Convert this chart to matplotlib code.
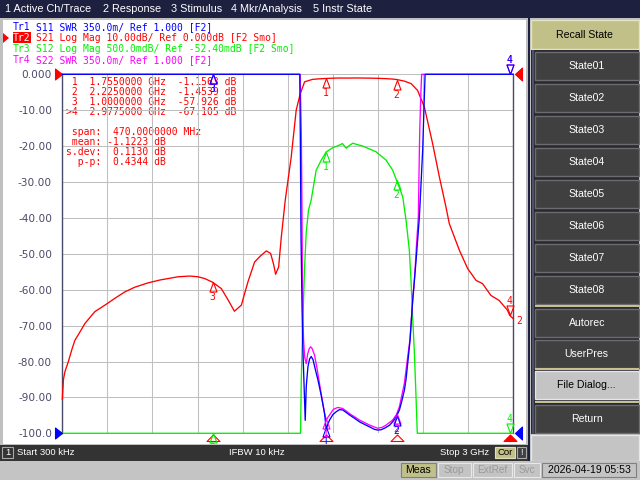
import numpy as np
import matplotlib
matplotlib.use("Agg")
import matplotlib.pyplot as plt
from matplotlib.patches import Rectangle, Polygon
from matplotlib.path import Path
from matplotlib.transforms import Bbox, TransformedBbox

# ------------------------------------------------------------------ data
start_ghz = 0.0003
stop_ghz = 3.0
n_div = 10

menu_labels = ["1 Active Ch/Trace", "2 Response", "3 Stimulus", "4 Mkr/Analysis", "5 Instr State"]

trace_names = ["Tr1", "Tr2", "Tr3", "Tr4"]
trace_params = ["S11", "S21", "S12", "S22"]
trace_formats = ["SWR", "Log Mag", "Log Mag", "SWR"]
trace_scales = ["350.0m/", "10.00dB/", "500.0mdB/", "350.0m/"]
trace_refs = ["Ref 1.000", "Ref 0.000dB", "Ref -52.40mdB", "Ref 1.000"]
trace_tags = ["[F2]", "[F2 Smo]", "[F2 Smo]", "[F2]"]

# per-division scale and reference value (reference position: top for dB, bottom for SWR)
s21_div, s21_ref = 10.0, 0.0
s12_div, s12_ref = 0.5, -0.0524
swr_div, swr_ref = 0.35, 1.0

# Tr2  S21 log magnitude (dB)
s21_freq = [0.0003, 0.008, 0.018, 0.040, 0.063, 0.084, 0.106, 0.151, 0.217, 0.284,
            0.350, 0.417, 0.483, 0.571, 0.650, 0.771, 0.849, 0.904, 0.948, 1.000,
            1.059, 1.103, 1.146, 1.192, 1.236, 1.280, 1.314, 1.358, 1.387, 1.407,
            1.420, 1.440, 1.458, 1.484, 1.524, 1.557, 1.584, 1.613, 1.635, 1.668,
            1.700, 1.755, 1.800, 1.850, 1.900, 1.950, 2.000, 2.050, 2.100, 2.150,
            2.200, 2.225, 2.277, 2.322, 2.365, 2.410, 2.465, 2.510, 2.554, 2.576,
            2.643, 2.698, 2.754, 2.797, 2.853, 2.908, 2.963, 2.9775, 3.000]
s21_db = [-90.5, -85.0, -82.8, -80.1, -76.8, -74.1, -72.6, -69.4, -66.1, -64.3,
          -62.4, -60.6, -59.3, -58.1, -57.3, -56.4, -56.2, -56.4, -56.9, -57.9,
          -59.7, -62.8, -66.0, -64.3, -57.8, -52.3, -50.8, -49.2, -49.9, -53.0,
          -55.7, -53.7, -45.3, -35.1, -23.0, -10.0, -5.4, -2.1, -1.8, -1.4,
          -1.3, -1.156, -1.08, -1.03, -1.05, -1.02, -1.04, -1.07, -1.12, -1.20,
          -1.33, -1.454, -1.9, -2.6, -4.5, -9.1, -19.3, -28.6, -37.0, -41.6,
          -49.0, -54.1, -57.4, -58.3, -61.6, -63.0, -65.7, -67.105, -68.0]

# Tr3  S12 log magnitude (dB), 0.5 dB/div
s12_freq = [0.0003, 1.586, 1.591, 1.601, 1.613, 1.624, 1.639, 1.657, 1.690, 1.724,
            1.757, 1.799, 1.845, 1.865, 1.890, 1.912, 1.934, 1.965, 2.000, 2.045,
            2.089, 2.155, 2.199, 2.233, 2.266, 2.288, 2.310, 2.322, 2.332, 2.343,
            2.353, 2.363, 3.000]
s12_db = [-5.0524, -5.0524, -4.3024, -3.5024, -2.7324, -2.2524, -1.9424, -1.8024, -1.3874, -1.2474,
          -1.1324, -1.0774, -1.0374, -1.0174, -1.0824, -1.0424, -1.0124, -1.0324, -1.0524, -1.0924,
          -1.1324, -1.2474, -1.3874, -1.5724, -1.7574, -2.0824, -2.5024, -2.9524, -3.4274, -3.9024,
          -4.4524, -5.0524, -5.0524]

# Tr1  S11 SWR
s11_freq = [0.0003, 1.581, 1.585, 1.589, 1.596, 1.601, 1.609, 1.617, 1.624, 1.635,
            1.646, 1.657, 1.669, 1.686, 1.701, 1.724, 1.746, 1.757, 1.767, 1.779,
            1.801, 1.823, 1.845, 1.867, 1.890, 1.912, 1.945, 1.978, 2.011, 2.045,
            2.078, 2.100, 2.122, 2.144, 2.177, 2.199, 2.222, 2.244, 2.260, 2.277,
            2.288, 2.299, 2.315, 2.332, 2.355, 2.377, 2.388, 2.399, 2.407, 2.415, 3.000]
s11_swr = [4.5, 4.5, 3.8, 2.925, 2.225, 1.84, 1.49, 1.126, 1.455, 1.6475,
           1.7245, 1.749, 1.7175, 1.6125, 1.525, 1.3675, 1.1925, 1.035, 1.0875, 1.1295,
           1.182, 1.21, 1.231, 1.2275, 1.203, 1.1785, 1.147, 1.112, 1.0875, 1.063,
           1.0385, 1.0315, 1.035, 1.049, 1.077, 1.112, 1.1575, 1.2275, 1.315, 1.42,
           1.525, 1.679, 1.91, 2.295, 2.687, 3.1105, 3.436, 3.765, 4.15, 4.5, 4.5]

# Tr4  S22 SWR
s22_freq = [0.0003, 1.583, 1.587, 1.591, 1.595, 1.598, 1.601, 1.606, 1.613, 1.624,
            1.633, 1.643, 1.653, 1.662, 1.679, 1.696, 1.712, 1.729, 1.746, 1.757,
            1.769, 1.779, 1.805, 1.834, 1.867, 1.912, 1.945, 1.978, 2.045, 2.100,
            2.131, 2.156, 2.199, 2.224, 2.244, 2.277, 2.299, 2.314, 2.327, 2.343,
            2.357, 2.370, 2.377, 2.380, 2.387, 2.392, 3.000]
s22_swr = [4.5, 4.5, 4.22, 3.94, 3.275, 2.575, 2.19, 1.91, 1.7455, 1.679,
           1.77, 1.8225, 1.8435, 1.8295, 1.763, 1.63, 1.4865, 1.3325, 1.1925, 1.1295,
           1.1575, 1.1785, 1.2345, 1.252, 1.2415, 1.1925, 1.161, 1.1295, 1.0805, 1.049,
           1.0595, 1.0805, 1.1295, 1.182, 1.259, 1.4865, 1.7455, 1.91, 2.19, 2.47,
           2.82, 3.1105, 3.765, 3.989, 4.325, 4.5, 4.5]

marker_names = ["1", "2", "3", ">4"]
marker_freq = [1.755, 2.225, 1.0, 2.9775]
marker_s21 = [-1.1563, -1.4539, -57.926, -67.105]
stats_labels = ["span:", "mean:", "s.dev:", "p-p:"]
stats_values = [None, -1.1223, 0.1130, 0.4344]
stats_units = ["MHz", "dB", "dB", "dB"]

softkey_title = "Recall State"
softkey_labels = ["State01", "State02", "State03", "State04", "State05", "State06",
                  "State07", "State08", "Autorec", "UserPres", "File Dialog...", "Return"]
status_texts = ["Start 300 kHz", "IFBW 10 kHz", "Stop 3 GHz"]
bottom_items = ["Meas", "Stop", "ExtRef", "Svc", "2026-04-19 05:53"]

# ------------------------------------------------------------------ style
DPI = 100
RED, BLUE, GREEN, MAG = "#ff0000", "#0000ff", "#00f000", "#ff00ff"
AXC = "#4a4a6a"
UIF = "Liberation Sans"
MONO = "DejaVu Sans Mono"
CW = 0.602 * 7.0 * DPI / 72  # monospace advance in pixels
plt.rcParams["font.family"] = ["DejaVu Sans"]

fig = plt.figure(figsize=(6.4, 4.8), dpi=DPI)
fig.patch.set_facecolor("#c0c0c0")

ui = fig.add_axes([0, 0, 1, 1])
ui.set_xlim(0, 640)
ui.set_ylim(480, 0)
ui.axis("off")
ui.set_zorder(0)


def rect(x0, y0, x1, y1, fc, ec="none", lw=0.0, z=1):
    ui.add_patch(Rectangle((x0, y0), x1 - x0, y1 - y0, facecolor=fc,
                           edgecolor=ec, linewidth=lw, zorder=z))


def uitext(x, y, s, color, size, family=UIF, ha="left", z=3):
    ui.text(x, y, s, color=color, fontsize=size, family=family, ha=ha,
            va="center", zorder=z)


# menu bar
rect(0, 0, 640, 18, "#1e2040")
for x, lab in zip([5, 103, 171, 231, 313], menu_labels):
    uitext(x, 9.5, lab, "white", 7.8)

# chart panel
rect(3, 20, 525.5, 443.5, "white")
rect(528.3, 18, 530.3, 461, "#1e2040")
panel_clip = TransformedBbox(Bbox([[3, 20], [525.5, 443.5]]), ui.transData)

# trace headers
for i, (n, p, f, sc, rf, tg) in enumerate(zip(trace_names, trace_params, trace_formats,
                                              trace_scales, trace_refs, trace_tags)):
    col = [BLUE, RED, GREEN, MAG][i]
    y = 27 + 11 * i
    rest = f"{p} {f} {sc} {rf} {tg}"
    if i == 1:
        rect(12.6, y - 5.6, 31.0, y + 5.4, RED, z=2)
        ui.add_patch(Polygon([(3, y - 5), (9, y), (3, y + 5)], closed=True,
                             facecolor=RED, edgecolor="none", zorder=2))
        uitext(13, y, n, "white", 7.0, MONO)
    else:
        uitext(13, y, n, col, 7.0, MONO)
    uitext(13 + (len(n) + 1) * CW, y, rest, col, 7.0, MONO)

# marker readout
for i, (nm, mf, mv) in enumerate(zip(marker_names, marker_freq, marker_s21)):
    uitext(65.9, 81.7 + 10 * i, f"{nm:>2}  {mf:.7f} GHz  {mv:.5g} dB", RED, 7.0, MONO)
span_mhz = (marker_freq[1] - marker_freq[0]) * 1000
for i, (lab, val, unit) in enumerate(zip(stats_labels, stats_values, stats_units)):
    v = f"{span_mhz: .7f}" if val is None else f"{val: .4f}"
    uitext(65.9, 131.7 + 10 * i, f"{lab:>6} {v} {unit}", RED, 7.0, MONO)

# softkeys
rect(530.5, 20, 638.5, 48.5, "#c0c088", "#e4e4c4", 1.0)
uitext(584.5, 34.5, softkey_title, "black", 7.6, ha="center")
rect(530.5, 50, 638.5, 434, "#2a2a36")
rect(531.5, 50, 533.5, 434, "#50506a")
key_tops = [52 + 32 * i for i in range(8)] + [309, 340, 371, 405]
for top, lab in zip(key_tops, softkey_labels):
    light = lab.startswith("File")
    fc = "#c4c4c4" if light else "#404040"
    rect(535, top, 638.5, top + 27.5, fc, "#6c6c6c" if not light else "#e6e6e6", 1.0)
    uitext(586.7, top + 14, lab, "black" if light else "white", 7.6, ha="center")
for yy in [305.5, 368.5, 402]:
    rect(535, yy - 1, 638.5, yy + 1, "#c8c090", z=2)
rect(530.5, 435, 638.5, 460.5, "#c4c4c4", "#e6e6e6", 1.0)

# status bar
rect(0, 445, 528.3, 460.5, "#333333")
rect(2, 447, 13.3, 458.3, "#333333", "#a8a8a8", 0.8)
uitext(7.6, 452.7, "1", "white", 6.8, ha="center")
for x, s in zip([17, 229, 440.5], status_texts):
    uitext(x, 452.7, s, "white", 6.8)
rect(495, 447, 515, 458.3, "#c0c088", "#e0e0c0", 0.8)
uitext(505, 452.7, "Cor", "black", 6.8, ha="center")
rect(517, 447, 525.5, 458.3, "#404040", "#a8a8a8", 0.8)
uitext(521.2, 452.7, "!", "white", 6.8, ha="center")

# bottom bar
rect(0, 461, 640, 480, "#c4c4c4")
boxes = [(401, 436), (437.5, 470.5), (472.5, 512), (514, 540), (542, 636)]
for (x0, x1), s in zip(boxes, bottom_items):
    if s == "Meas":
        rect(x0, 462.5, x1, 477, "#c0c088", "#808080", 0.8)
        col = "black"
    elif s.startswith("20"):
        rect(x0, 462.5, x1, 477, "#c4c4c4", "#808080", 0.8)
        col = "black"
    else:
        rect(x0, 462.5, x1, 477, "#c4c4c4", "#e8e8e8", 0.8)
        col = "#9a9a9a"
    uitext((x0 + x1) / 2, 470, s, col, 7.6 if col == "black" else 7.2, ha="center")

# ------------------------------------------------------------------ graticule
L, R, T, B = 62.3, 513.0, 74.3, 433.3
ax = fig.add_axes([L / 640, 1 - B / 480, (R - L) / 640, (B - T) / 480])
ax.set_zorder(2)
ax.patch.set_visible(False)
s21_lim = (s21_ref - n_div * s21_div, s21_ref)
s12_lim = (s12_ref - n_div * s12_div, s12_ref)
swr_lim = (swr_ref, swr_ref + n_div * swr_div)
ax.set_xlim(start_ghz, stop_ghz)
ax.set_ylim(*s21_lim)
ax.set_xticks(np.linspace(start_ghz, stop_ghz, n_div + 1))
yt = np.linspace(s21_lim[0], s21_lim[1], n_div + 1)
ax.set_yticks(yt)
ax.set_yticklabels([f"{v:#.4g}" for v in yt])
ax.tick_params(axis="x", length=0, labelbottom=False)
ax.tick_params(axis="y", length=0, pad=7.4, labelsize=7.6, labelcolor=AXC)
ax.grid(True, color="#c0c0c0", lw=0.75)
for side, sp in ax.spines.items():
    sp.set_visible(side in ("left", "right"))
    sp.set_color(AXC)
    sp.set_linewidth(1.0)

ax_g = ax.twinx()
ax_g.set_ylim(*s12_lim)
ax_g.axis("off")
ax_g.set_zorder(3)
ax_s = ax.twinx()
ax_s.set_ylim(*swr_lim)
ax_s.axis("off")
ax_s.set_zorder(4)


def tri(verts):
    v = np.asarray(verts, float)
    path = Path(np.vstack([v, v[:1]]),
                [Path.MOVETO] + [Path.LINETO] * (len(v) - 1) + [Path.CLOSEPOLY])
    return path, 2 * np.abs(v).max() * 72 / DPI


MK_BELOW = tri([(0, 0), (-3.5, -9.5), (3.5, -9.5)])
MK_ABOVE = tri([(0, 0), (-3.5, 9.5), (3.5, 9.5)])
MK_STIM = tri([(0, -1.5), (-6.5, -8), (6.5, -8)])
REF_L = tri([(0, 0), (-7, 5.5), (-7, -5.5)])
REF_R = tri([(2, 0), (9, 6.5), (9, -6.5)])


def mark(a, x, y, shape, color, filled=False, z=6):
    path, ms = shape
    ln, = a.plot([x], [y], ls="none", marker=path, markersize=ms,
                 mfc=color if filled else "none", mec=color, mew=0.8,
                 clip_on=True, zorder=z)
    ln.set_clip_box(panel_clip)


def label(a, x, y, s, color, dy, dx=0):
    t = a.annotate(s, xy=(x, y), xytext=(dx, dy), textcoords="offset pixels",
                   ha="center", va="center", color=color, fontsize=7.0,
                   family=MONO, annotation_clip=False, zorder=7)
    t.set_clip_box(panel_clip)
    t.set_clip_on(True)


traces = [
    (ax, s21_freq, s21_db, s21_lim, RED),
    (ax_g, s12_freq, s12_db, s12_lim, GREEN),
    (ax_s, s22_freq, s22_swr, swr_lim, MAG),
    (ax_s, s11_freq, s11_swr, swr_lim, BLUE),
]
for a, fr, vals, lim, col in traces:
    yv = np.clip(vals, lim[0], lim[1])
    a.plot(fr, yv, color=col, lw=0.95, clip_on=False, zorder=5)
    for nm, mf in zip(marker_names, marker_freq):
        mv = float(np.clip(np.interp(mf, fr, vals), lim[0], lim[1]))
        if nm.startswith(">"):
            mark(a, mf, mv, MK_ABOVE, col)
            label(a, mf, mv, nm[1:], col, 14)
        else:
            mark(a, mf, mv, MK_BELOW, col)
            if mv > lim[0]:
                label(a, mf, mv, nm, col, -15)

# trace-number tag at end of the active trace
ax.annotate(trace_names[1][-1], xy=(stop_ghz, s21_db[-1]), xytext=(6, -3),
            textcoords="offset pixels", ha="center", va="center", color=RED,
            fontsize=7.0, family=MONO, annotation_clip=False)

# stimulus markers on the bottom edge
for nm, mf in zip(marker_names, marker_freq):
    mark(ax, mf, s21_lim[0], MK_STIM, RED, filled=nm.startswith(">"), z=8)

# reference position arrows
mark(ax, start_ghz, s21_ref, REF_L, RED, filled=True)
mark(ax_s, start_ghz, swr_ref, REF_L, BLUE, filled=True)
mark(ax, stop_ghz, s21_ref, REF_R, RED, filled=True)
mark(ax_s, stop_ghz, swr_ref, REF_R, BLUE, filled=True)

fig.savefig("out.png", dpi=DPI, facecolor=fig.get_facecolor())
